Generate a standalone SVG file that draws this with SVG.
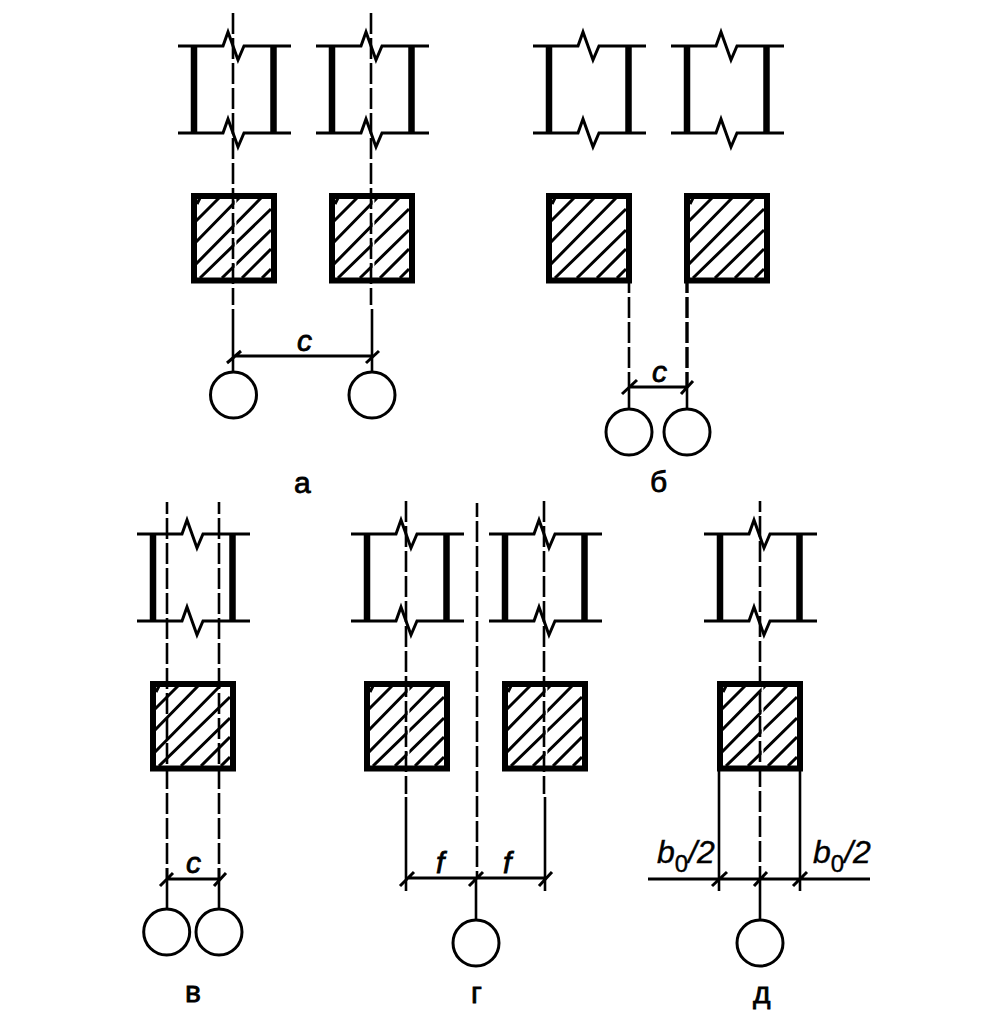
<svg xmlns="http://www.w3.org/2000/svg" width="996" height="1019" viewBox="0 0 996 1019">
<style>
.flange{fill:none;stroke:#000;stroke-width:3;stroke-linejoin:miter}
.web{fill:none;stroke:#000;stroke-width:6.500}
.box{fill:none;stroke:#000;stroke-width:6}
.hatch{fill:none;stroke:#000;stroke-width:3}
.dash{fill:none;stroke:#000;stroke-width:2.600;stroke-dasharray:21 4}
.thick{stroke-width:3.400}
.solid{fill:none;stroke:#000;stroke-width:2.600}
.dim{fill:none;stroke:#000;stroke-width:3}
.ring{fill:#fff;stroke:#000;stroke-width:3}
.halo{fill:none;stroke:#fff;stroke-width:1.800}
text{font-family:"Liberation Sans",Arial,sans-serif;font-size:30px;fill:#000;stroke:#000;stroke-width:.8}
.it{font-style:italic}
.dl{stroke-width:.4;font-size:32px}
.sub{font-size:24px;font-style:normal}
</style>
<defs>
<g id="beam">
<path class="flange" d="M178 46H223L228 32L238 60L244 46H291M178 133H223L228 119L238 147L244 133H291"/>
<path class="web" d="M194 46V133M273.500 46V133"/>
</g>
<g id="sect">
<rect x="194" y="196" width="80" height="84.500" fill="#fff"/>
<path class="hatch" d="M197 204L200 198M196 221L219 198M196 242L239 198M196 264L261 198M200 278L271 209M222 278L271 230M242 278L271 249M262 278L271 269"/>
<rect class="box" x="194" y="196" width="80" height="84.500"/>
</g>
</defs>
<g id="a-col-1"><use href="#beam"/><use href="#sect"/></g>
<g id="a-col-2"><use href="#beam" x="138"/><use href="#sect" x="138"/></g>
<g id="b-col-1"><use href="#beam" x="355"/><use href="#sect" x="355"/></g>
<g id="b-col-2"><use href="#beam" x="493"/><use href="#sect" x="493"/></g>
<g id="v-col"><use href="#beam" x="-41" y="488"/><use href="#sect" x="-41" y="488"/></g>
<g id="g-col-1"><use href="#beam" x="173" y="488"/><use href="#sect" x="173" y="488"/></g>
<g id="g-col-2"><use href="#beam" x="311" y="488"/><use href="#sect" x="311" y="488"/></g>
<g id="d-col"><use href="#beam" x="526" y="488"/><use href="#sect" x="526" y="488"/></g>
<g id="connectors">
<path class="halo" d="M235.500 199V277M373.500 199V277M408.500 687V765M546.500 687V765M762.500 687V765"/>
<path class="dash" d="M233 13V305"/><path class="solid" d="M233 309V372"/>
<path class="dash" d="M371 13V305"/><path class="solid" d="M372 309V372"/>
<path class="dim" d="M233 356H372M227 363L241 351M366 363L379 351"/>
<path class="dash" d="M629 283V386" style="stroke-dashoffset:11"/><path class="solid" d="M629 386V408"/>
<path class="dash thick" d="M687 283V386" style="stroke-dashoffset:11"/><path class="solid" d="M687 386V408"/>
<path class="dim" d="M629 387H687M622 394L637 380M681 394L693 381"/>
<path class="dash" d="M167 502V878" style="stroke-dashoffset:9"/><path class="solid" d="M167 868V910"/>
<path class="dash" d="M219 502V878" style="stroke-dashoffset:9"/><path class="solid" d="M219 868V910"/>
<path class="dim" d="M167 879H219M160 886L173 873M214 886L226 873"/>
<path class="dash" d="M406 501V794"/><path class="solid" d="M406 797V891"/>
<path class="dash" d="M544 501V794"/><path class="solid" d="M545 797V891"/>
<path class="dash" d="M477 503V878" style="stroke-dashoffset:7"/><path class="solid" d="M476 878V920"/>
<path class="dim" d="M406 878H545M400 886L414 872M469 886L483 872M539 886L552 872"/>
<path class="dash" d="M760 501V878" style="stroke-dashoffset:10"/><path class="solid" d="M760 878V920"/>
<path class="solid" d="M719 771V891M800 771V891"/>
<path class="dim" d="M648 879H870M712 886L727 872M754 886L767 872M793 886L807 872"/>
</g>
<g id="bolt-a1"><circle class="ring" cx="233.500" cy="395" r="23"/></g>
<g id="bolt-a2"><circle class="ring" cx="372" cy="395" r="23"/></g>
<g id="bolt-b1"><circle class="ring" cx="629" cy="432" r="23"/></g>
<g id="bolt-b2"><circle class="ring" cx="687" cy="432" r="23"/></g>
<g id="bolt-v1"><circle class="ring" cx="166.700" cy="932" r="23"/></g>
<g id="bolt-v2"><circle class="ring" cx="219" cy="932" r="23"/></g>
<g id="bolt-g"><circle class="ring" cx="476" cy="943" r="23"/></g>
<g id="bolt-d"><circle class="ring" cx="760" cy="943" r="23"/></g>
<g id="labels">
<text class="it" x="297" y="351">c</text>
<text class="it" x="652" y="382">c</text>
<text class="it" x="186" y="873">c</text>
<text class="it" x="436" y="873">f</text>
<text class="it" x="503" y="873">f</text>
<text class="it dl" x="657" y="863">b<tspan class="sub" dy="9">0</tspan><tspan dy="-9">/2</tspan></text>
<text class="it dl" x="813" y="863">b<tspan class="sub" dy="9">0</tspan><tspan dy="-9">/2</tspan></text>
<text x="294" y="493">а</text>
<text x="650" y="492">б</text>
<text x="185" y="1002">в</text>
<text x="471" y="1003">г</text>
<text x="753" y="1003">д</text>
</g>
</svg>
